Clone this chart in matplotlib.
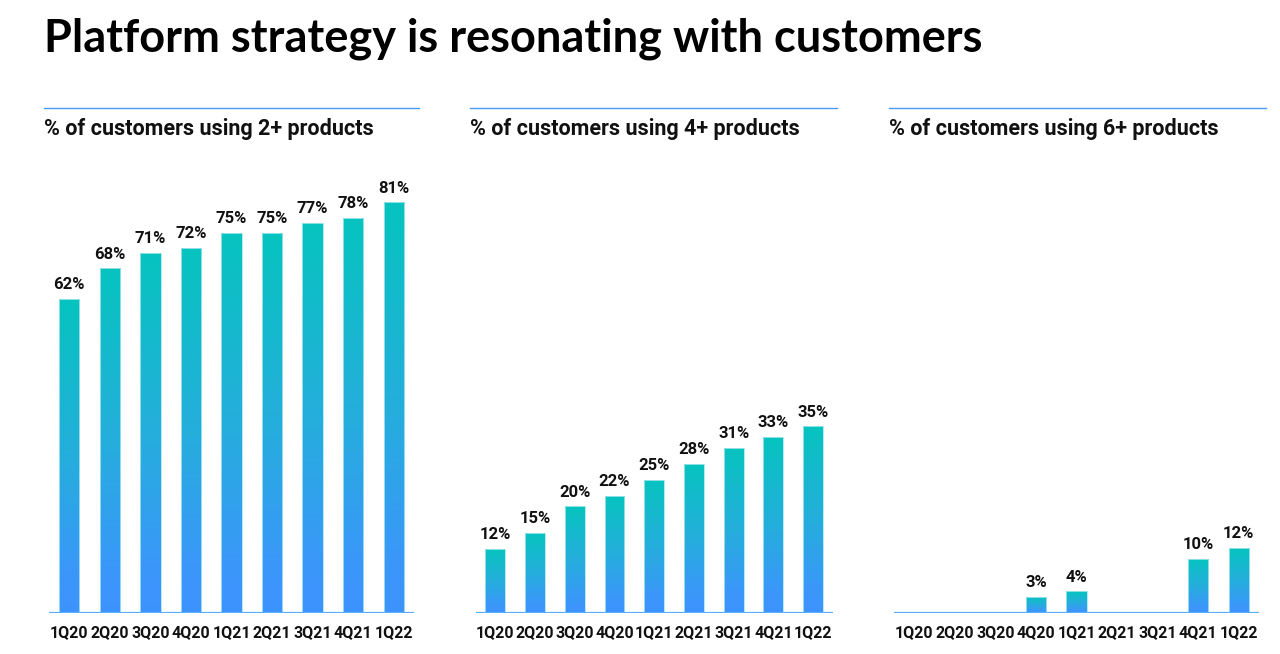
import numpy as np
import matplotlib.pyplot as plt
from matplotlib.colors import LinearSegmentedColormap
from matplotlib.lines import Line2D

# data
quarters = ["1Q20", "2Q20", "3Q20", "4Q20", "1Q21", "2Q21", "3Q21", "4Q21", "1Q22"]
two_plus = [62, 68, 71, 72, 75, 75, 77, 78, 81]
four_plus = [12, 15, 20, 22, 25, 28, 31, 33, 35]
six_plus = [None, None, None, 3, 4, None, None, 10, 12]
subtitles = ["% of customers using 2+ products",
             "% of customers using 4+ products",
             "% of customers using 6+ products"]
title = "Platform strategy is resonating with customers"

W, H = 1280, 654
fig = plt.figure(figsize=(W / 100, H / 100), dpi=100)

grad = LinearSegmentedColormap.from_list("g", [(0, "#3E93FF"), (0.12, "#3B97FA"),
                                               (0.5, "#25AEDC"), (1, "#06C4BF")])
line_col = "#4A9DF6"


def box(x0, y0, x1, y1):
    # pixel box (top-left origin) -> figure fraction rect
    return [x0 / W, 1 - y1 / H, (x1 - x0) / W, (y1 - y0) / H]


def draw_panel(vals, x0, x1, base, scale):
    ymax = 90
    ax = fig.add_axes(box(x0, base - ymax * scale, x1, base))
    x = np.arange(len(quarters))
    v = [0 if a is None else a for a in vals]
    bars = ax.bar(x, v, width=0.5, color="none", edgecolor="#A6E6F0", linewidth=0.6, zorder=3)
    g = np.linspace(0, 1, 256).reshape(-1, 1)
    for b, val in zip(bars, vals):
        if val is None:
            continue
        im = ax.imshow(g, cmap=grad, origin="lower", aspect="auto", zorder=2,
                       extent=(b.get_x(), b.get_x() + b.get_width(), 0, val))
        im.set_clip_path(b)
        ax.annotate(f"{val}%", (b.get_x() + b.get_width() / 2, val), xytext=(0, 7),
                    textcoords="offset points", ha="center", va="baseline",
                    fontsize=12, fontweight="bold", family="Roboto", color="#111111")
    ax.set_xlim(-0.5, len(quarters) - 0.5)
    ax.set_ylim(0, ymax)
    ax.axhline(0, color="#5AAEFF", lw=1.6, zorder=4)
    for s in ax.spines.values():
        s.set_visible(False)
    ax.set_yticks([])
    ax.set_xticks(x)
    ax.set_xticklabels(quarters, fontsize=11.5, fontweight="bold", family="Roboto", color="#111111")
    ax.tick_params(axis="x", length=0, pad=9)
    ax.patch.set_alpha(0)
    return ax


draw_panel(two_plus, 49, 414, 613, 5.07)
draw_panel(four_plus, 475.5, 833, 613, 5.33)
draw_panel(six_plus, 894, 1259, 613, 5.4)

# panel headers: rule + subtitle
for (lx0, lx1), sub in zip([(44, 419), (470, 837), (889, 1266)], subtitles):
    fig.add_artist(Line2D([lx0 / W, lx1 / W], [1 - 108 / H, 1 - 108 / H], color=line_col, lw=1))
    fig.text(lx0 / W, 1 - 135 / H, sub, fontsize=15.5, fontweight="bold", family="Roboto",
             color="#111111", va="baseline", ha="left")

fig.text(44 / W, 1 - 52 / H, title, fontsize=32.5, fontweight="bold", family="Lato",
         color="black", va="baseline", ha="left")

fig.savefig("out.png", dpi=100, facecolor="white")
